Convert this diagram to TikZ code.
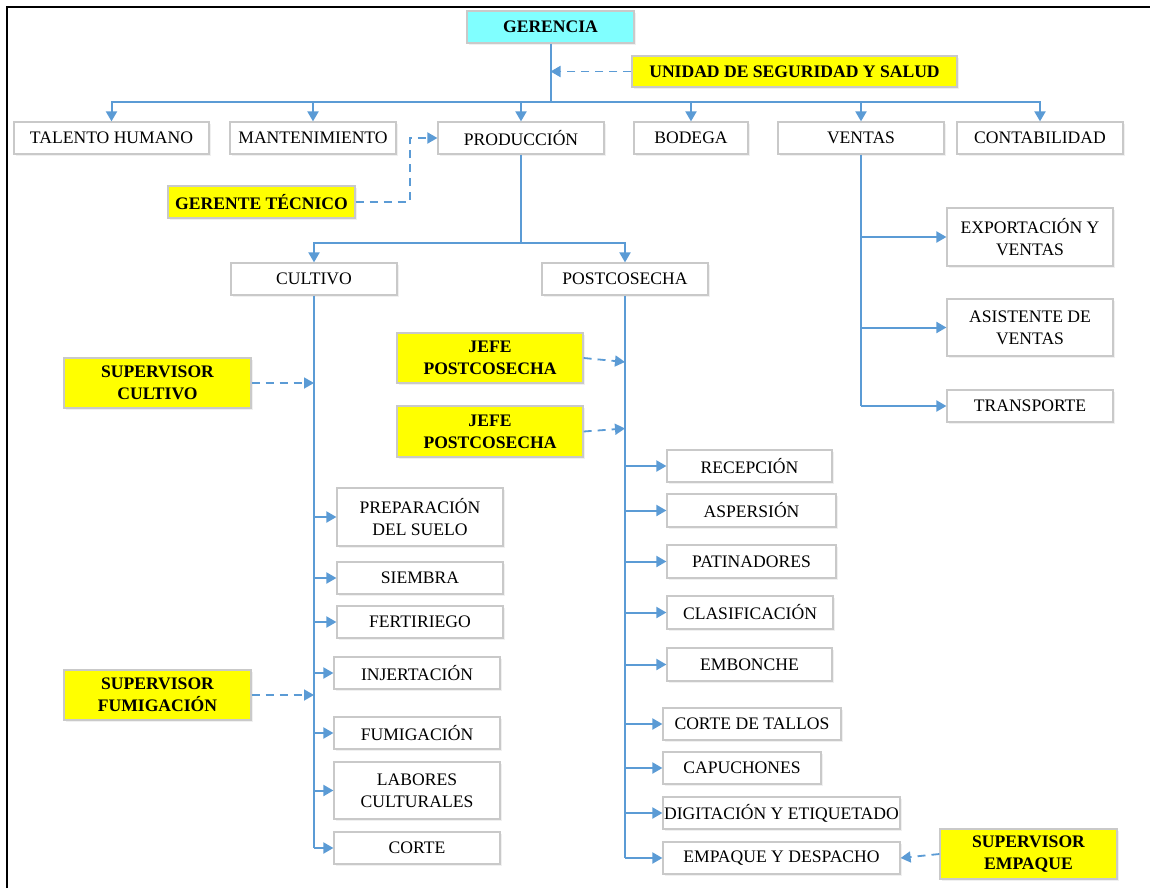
\documentclass[tikz,border=0pt]{standalone}
\usepackage{fontspec}
\setmainfont{Liberation Serif}
\usetikzlibrary{arrows.meta,shadows}
\definecolor{conncol}{HTML}{5B9BD5}
\definecolor{boxline}{HTML}{C9C9C9}
\definecolor{cyanfill}{HTML}{80FFFF}
\definecolor{yelfill}{HTML}{FFFF00}
\tikzset{
  plainbox/.style={draw=boxline, line width=1.2pt, fill=white, inner sep=0pt, align=center,
     font=\fontsize{17.6}{22}\selectfont,
     drop shadow={opacity=0.12, shadow xshift=2pt, shadow yshift=-2pt}},
  yelbox/.style={plainbox, fill=yelfill, font=\fontsize{17.6}{22}\selectfont\bfseries},
  cyanbox/.style={plainbox, fill=cyanfill, font=\fontsize{17.6}{22}\selectfont\bfseries},
  conn/.style={draw=conncol, line width=2pt},
  arr/.style={conn, -{Triangle[length=10pt,width=11pt]}},
  dasharr/.style={draw=conncol, line width=1.8pt, dash pattern=on 8pt off 6pt, -{Triangle[length=10pt,width=11pt]}}
}
\newcommand{\bx}[7]{\node[#7, minimum width=#4pt-#2pt, minimum height=#5pt-#3pt] (#1) at ({(#2+#4)/2},{(#3+#5)/2}) {#6};}
\begin{document}
\begin{tikzpicture}[x=1pt,y=-1pt]
\useasboundingbox (0,0) rectangle (1150,888);
\draw[line width=2.4pt] (7,888) -- (7,7) -- (1150,7);
% top level
\bx{ger}{467}{11}{634}{43}{GERENCIA}{cyanbox}
\bx{usal}{632}{56}{957}{87}{UNIDAD DE SEGURIDAD Y SALUD}{yelbox}
\bx{th}{14}{122}{209}{154}{TALENTO HUMANO}{plainbox}
\bx{mant}{230}{122}{396}{154}{MANTENIMIENTO}{plainbox}
\bx{prod}{438}{122}{604}{154}{PRODUCCIÓN}{plainbox}
\bx{bod}{634}{122}{748}{154}{BODEGA}{plainbox}
\bx{vent}{778}{122}{944}{154}{VENTAS}{plainbox}
\bx{cont}{957}{122}{1123}{154}{CONTABILIDAD}{plainbox}
\bx{gt}{168}{186}{355}{218}{GERENTE TÉCNICO}{yelbox}
% second level
\bx{cult}{231}{263}{397}{295}{CULTIVO}{plainbox}
\bx{post}{542}{263}{708}{295}{POSTCOSECHA}{plainbox}
% ventas children
\bx{expo}{947}{208}{1113}{266}{EXPORTACIÓN Y\\VENTAS}{plainbox}
\bx{asis}{947}{299}{1113}{356}{ASISTENTE DE\\VENTAS}{plainbox}
\bx{trans}{947}{390}{1113}{422}{TRANSPORTE}{plainbox}
% cultivo
\bx{scult}{64}{358}{251}{408}{SUPERVISOR\\CULTIVO}{yelbox}
\bx{sfum}{64}{670}{251}{720}{SUPERVISOR\\FUMIGACIÓN}{yelbox}
\bx{prep}{337}{488}{503}{546}{PREPARACIÓN\\DEL SUELO}{plainbox}
\bx{siem}{337}{562}{503}{594}{SIEMBRA}{plainbox}
\bx{fert}{337}{606}{503}{638}{FERTIRIEGO}{plainbox}
\bx{injer}{334}{657}{500}{689}{INJERTACIÓN}{plainbox}
\bx{fumi}{334}{717}{500}{749}{FUMIGACIÓN}{plainbox}
\bx{labo}{334}{762}{500}{819}{LABORES\\CULTURALES}{plainbox}
\bx{corte}{334}{832}{500}{864}{CORTE}{plainbox}
% postcosecha
\bx{jefa}{397}{333}{583}{383}{JEFE\\POSTCOSECHA}{yelbox}
\bx{jefb}{397}{406}{583}{457}{JEFE\\POSTCOSECHA}{yelbox}
\bx{rece}{667}{450}{832}{482}{RECEPCIÓN}{plainbox}
\bx{asper}{667}{494}{836}{527}{ASPERSIÓN}{plainbox}
\bx{pati}{667}{545}{836}{578}{PATINADORES}{plainbox}
\bx{clas}{667}{596}{833}{629}{CLASIFICACIÓN}{plainbox}
\bx{embo}{667}{648}{832}{681}{EMBONCHE}{plainbox}
\bx{ctal}{663}{708}{841}{740}{CORTE DE TALLOS}{plainbox}
\bx{capu}{663}{752}{821}{784}{CAPUCHONES}{plainbox}
\bx{digi}{663}{797}{900}{829}{DIGITACIÓN Y ETIQUETADO}{plainbox}
\bx{empa}{663}{842}{900}{874}{EMPAQUE Y DESPACHO}{plainbox}
\bx{semp}{940}{829}{1117}{879}{SUPERVISOR\\EMPAQUE}{yelbox}
% connectors top
\draw[conn] (ger.south) -- ++(0,58) coordinate (bus);
\foreach \n in {th,mant,prod,bod,vent,cont} \draw[arr] (bus) -| (\n.north);
\draw[dasharr] (usal.west) -- (usal.west -| ger.south);
\draw[dasharr] (gt.east) -- ++(54,0) |- (prod.west);
% produccion
\draw[conn] (prod.south) -- ++(0,88) coordinate (pbus);
\draw[arr] (pbus) -| (cult.north);
\draw[arr] (pbus) -| (post.north);
% cultivo
\draw[conn] (cult.south) -- (cult.south |- corte.west);
\foreach \n in {prep,siem,fert,injer,fumi,labo,corte} \draw[arr] (cult.south |- \n.west) -- (\n.west);
\draw[dasharr] (scult.east) -- (scult.east -| cult.south);
\draw[dasharr] (sfum.east) -- (sfum.east -| cult.south);
% postcosecha
\draw[conn] (post.south) -- (post.south |- empa.west);
\foreach \n in {rece,asper,pati,clas,embo,ctal,capu,digi,empa} \draw[arr] (post.south |- \n.west) -- (\n.west);
\draw[dasharr] (jefa.east) -- ([yshift=-4pt]jefa.east -| post.south);
\draw[dasharr] (jefb.east) -- ([yshift=3pt]jefb.east -| post.south);
\draw[dasharr] (semp.west) -- (empa.east);
% ventas
\draw[conn] (vent.south) -- (vent.south |- trans.west);
\foreach \n in {expo,asis,trans} \draw[arr] (vent.south |- \n.west) -- (\n.west);
\end{tikzpicture}
\end{document}
